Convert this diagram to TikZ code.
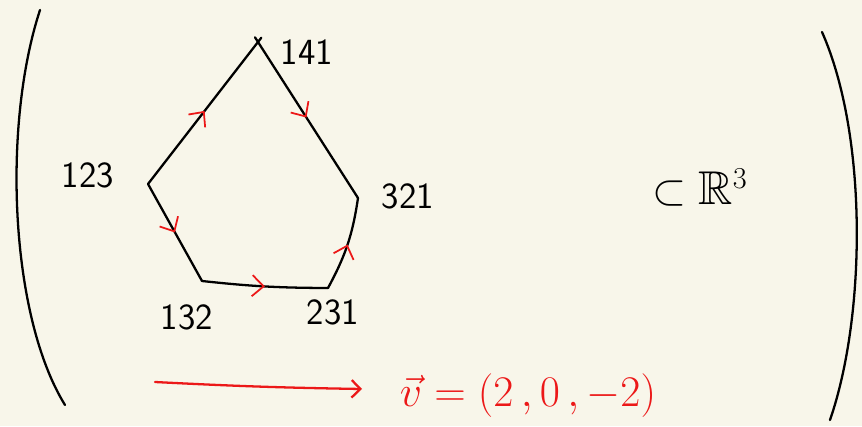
\documentclass[tikz,border=0pt]{standalone}
\usepackage{amsmath, amssymb}
\usepackage{tikz}
\usetikzlibrary{arrows.meta, decorations.markings, calc}
\definecolor{figBg}{RGB}{248,246,234}
\definecolor{figR}{RGB}{236,24,24}
\tikzset{
  hand/.style={line width=1.3pt, line cap=round, line join=round},
  midarrow/.style={postaction={decorate}, decoration={markings,
    mark=at position 0.5 with {\arrow[figR, line width=1pt]{Straight Barb[length=6.5pt, width=12pt]}}}},
  vlabel/.style={font=\sffamily\fontsize{21}{25}\selectfont, inner sep=0pt}
}

\begin{document}
\begin{tikzpicture}[x=0.02cm, y=0.02cm]
\fill[figBg] (0,0) rectangle (862,426);
\useasboundingbox (0,0) rectangle (862,426);
% the big brackets
\draw[hand] (40,416) .. controls (2,300) and (10,110) .. (65,21);
\draw[hand] (822,394) .. controls (868,290) and (866,110) .. (830,6);
% permutation vertices
\coordinate (p123) at (148,242);
\coordinate (ptop) at (258,384);
\coordinate (p321) at (358,228);
\coordinate (p231) at (328,138);
\coordinate (p132) at (202,145);
\node[vlabel] (l141) at (307,374) {141};
\node[vlabel] (l123) at (88,251) {123};
\node[vlabel] (l321) at (408,230) {321};
\node[vlabel] (l132) at (187,109) {132};
\node[vlabel] (l231) at (333,114) {231};
% edges, oriented from 123 to 321
\draw[hand, midarrow] (p123) -- ($(p123)!1.03!(ptop)$);
\draw[hand, midarrow] ($(p321)!1.03!(ptop)$) -- (p321);
\draw[hand, midarrow] (p123) -- (p132);
\draw[hand, midarrow] (p132) to[bend right=3] (p231);
\draw[hand, midarrow] (p231) to[bend right=10] (p321);
% ambient space
\node[font=\fontsize{27}{31}\selectfont, inner sep=0pt] (sub) at (700,238) {$\subset \mathbb{R}^3$};
% direction vector
\coordinate (atail) at (155,44);
\coordinate (ahead) at (362,37);
\draw[hand, figR, -{Straight Barb[length=5pt, width=10pt]}] (atail) to[bend right=1] (ahead);
\node[figR, font=\fontsize{25}{29}\selectfont, inner sep=0pt] (vec) at (528,30) {$\vec{v} = (2\,,0\,,-2)$};
\end{tikzpicture}
\end{document}
